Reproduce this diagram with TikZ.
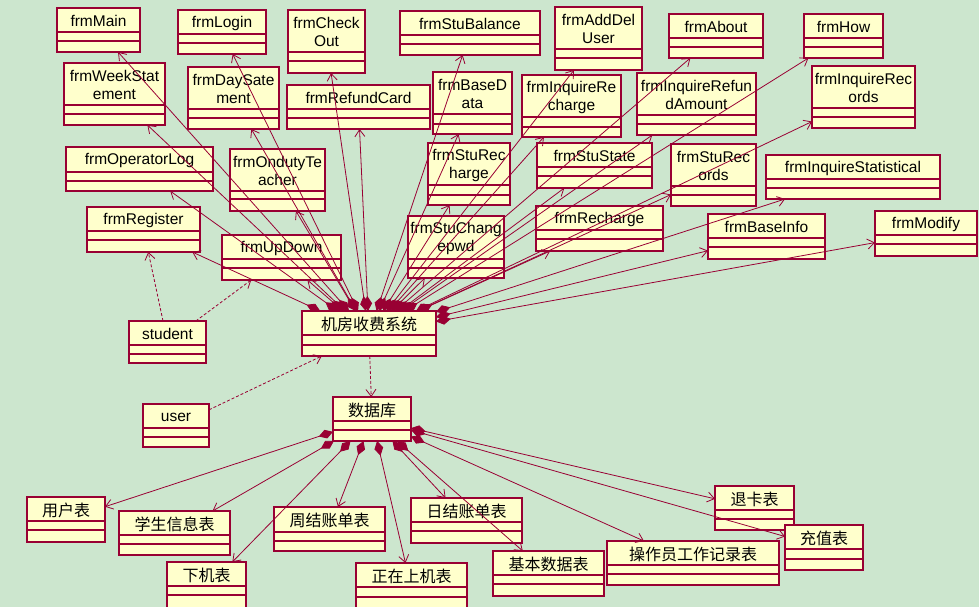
\documentclass[tikz,border=0pt]{standalone}
\usepackage{fontspec}
\setmainfont{Liberation Sans}
\newfontfamily\cjk{Noto Sans CJK SC}
\usetikzlibrary{arrows.meta}
\definecolor{bgc}{RGB}{204,230,206}
\definecolor{fillc}{RGB}{255,255,204}
\definecolor{linec}{RGB}{153,0,51}
\tikzset{
  cls/.style={draw=linec, fill=fillc, line width=1.1pt, rectangle, inner sep=0pt, outer sep=0pt},
  sep/.style={draw=linec, line width=1.1pt},
  lbl/.style={font=\fontsize{15.5}{18}\selectfont, align=center, inner sep=0pt, text=black},
  clbl/.style={font=\cjk\fontsize{16}{18}\selectfont, align=center, inner sep=0pt, text=black},
  comp/.style={draw=linec, line width=0.8pt, {Diamond[length=15pt,width=9pt,fill=linec]}-{Straight Barb[length=7pt,width=10pt]}},
  dep/.style={draw=linec, line width=0.8pt, dash pattern=on 3pt off 2pt, -{Straight Barb[length=7pt,width=10pt]}}
}
% #1 name, #2 x1, #3 y1, #4 x2, #5 y2, #6 line1, #7 line2, #8 label style, #9 text
\newcommand{\ubox}[9]{%
  \node[cls, minimum width={#4-#2}, minimum height={#5-#3}] (#1) at ({(#2+#4)/2},{(#3+#5)/2}) {};
  \draw[sep] (#2,#6) -- (#4,#6) (#2,#7) -- (#4,#7);
  \node[#8] (#1-t) at ({(#2+#4)/2},{(#3+#6)/2+1}) {#9};
}
\begin{document}
\begin{tikzpicture}[x=1pt,y=-1pt]
\fill[bgc] (0,0) rectangle (979,607);
\useasboundingbox (0,0) rectangle (979,607);
\clip (0,0) rectangle (979,607);
% forms
\ubox{main}{57}{8}{140}{52}{32}{41}{lbl}{frmMain}
\ubox{login}{178}{10}{266}{54}{34}{43}{lbl}{frmLogin}
\ubox{checkout}{288}{10}{365}{73}{52}{61}{lbl}{frmCheck\\Out}
\ubox{stubal}{400}{11}{540}{55}{35}{44}{lbl}{frmStuBalance}
\ubox{adddel}{555}{7}{642}{70}{49}{58}{lbl}{frmAddDel\\User}
\ubox{about}{669}{14}{763}{58}{38}{47}{lbl}{frmAbout}
\ubox{how}{804}{14}{883}{58}{38}{47}{lbl}{frmHow}
\ubox{week}{64}{63}{165}{125}{105}{114}{lbl}{frmWeekStat\\ement}
\ubox{day}{188}{67}{279}{129}{109}{118}{lbl}{frmDaySate\\ment}
\ubox{refund}{287}{85}{430}{129}{109}{118}{lbl}{frmRefundCard}
\ubox{basedata}{433}{72}{512}{134}{114}{124}{lbl}{frmBaseD\\ata}
\ubox{inqrech}{522}{75}{621}{137}{117}{127}{lbl}{frmInquireRe\\charge}
\ubox{inqrefund}{637}{73}{756}{135}{115}{124}{lbl}{frmInquireRefun\\dAmount}
\ubox{inqrec}{812}{66}{915}{128}{108}{117}{lbl}{frmInquireRec\\ords}
\ubox{oplog}{66}{147}{213}{191}{172}{181}{lbl}{frmOperatorLog}
\ubox{onduty}{230}{149}{325}{211}{191}{199}{lbl}{frmOndutyTe\\acher}
\ubox{sturech}{428}{143}{510}{205}{185}{195}{lbl}{frmStuRec\\harge}
\ubox{stustate}{537}{143}{652}{188}{167}{176}{lbl}{frmStuState}
\ubox{sturecs}{671}{144}{756}{206}{186}{195}{lbl}{frmStuRec\\ords}
\ubox{inqstat}{766}{155}{940}{199}{179}{188}{lbl}{frmInquireStatistical}
\ubox{register}{87}{207}{200}{252}{231}{240}{lbl}{frmRegister}
\ubox{updown}{222}{235}{341}{280}{259}{268}{lbl}{frmUpDown}
\ubox{changepwd}{408}{216}{504}{278}{259}{268}{lbl}{frmStuChang\\epwd}
\ubox{recharge}{536}{206}{663}{251}{230}{239}{lbl}{frmRecharge}
\ubox{baseinfo}{708}{214}{825}{259}{238}{247}{lbl}{frmBaseInfo}
\ubox{modify}{875}{211}{977}{256}{235}{244}{lbl}{frmModify}
% actors / system
\ubox{student}{129}{321}{206}{363}{345}{354}{lbl}{student}
\ubox{sys}{302}{311}{436}{356}{335}{345}{clbl}{机房收费系统}
\ubox{user}{143}{404}{209}{447}{428}{437}{lbl}{user}
\ubox{db}{333}{397}{411}{441}{421}{430}{clbl}{数据库}
% tables
\ubox{tuser}{27}{497}{105}{542}{521}{530}{clbl}{用户表}
\ubox{tstu}{119}{511}{230}{555}{535}{544}{clbl}{学生信息表}
\ubox{toff}{167}{562}{246}{615}{586}{595}{clbl}{下机表}
\ubox{tweek}{274}{507}{385}{551}{532}{541}{clbl}{周结账单表}
\ubox{ton}{356}{563}{467}{615}{587}{597}{clbl}{正在上机表}
\ubox{tday}{411}{498}{522}{543}{522}{531}{clbl}{日结账单表}
\ubox{tbase}{493}{551}{604}{596}{575}{584}{clbl}{基本数据表}
\ubox{toplog}{607}{541}{779}{585}{565}{574}{clbl}{操作员工作记录表}
\ubox{trefund}{715}{486}{794}{530}{510}{519}{clbl}{退卡表}
\ubox{trech}{785}{525}{863}{570}{549}{559}{clbl}{充值表}
% composition connectors from system
\foreach \t in {main,login,checkout,stubal,adddel,about,how,week,day,refund,basedata,inqrech,inqrefund,inqrec,oplog,onduty,sturech,stustate,sturecs,inqstat,register,updown,changepwd,recharge,baseinfo,modify}
  \draw[comp] (sys) -- (\t);
% composition connectors from database
\foreach \t in {tuser,tstu,toff,tweek,ton,tday,tbase,toplog,trefund,trech}
  \draw[comp] (db) -- (\t);
% dependencies
\draw[dep] (student) -- (register);
\draw[dep] (student) -- (updown);
\draw[dep] (user) -- (sys);
\draw[dep] (sys) -- (db);
\end{tikzpicture}
\end{document}
